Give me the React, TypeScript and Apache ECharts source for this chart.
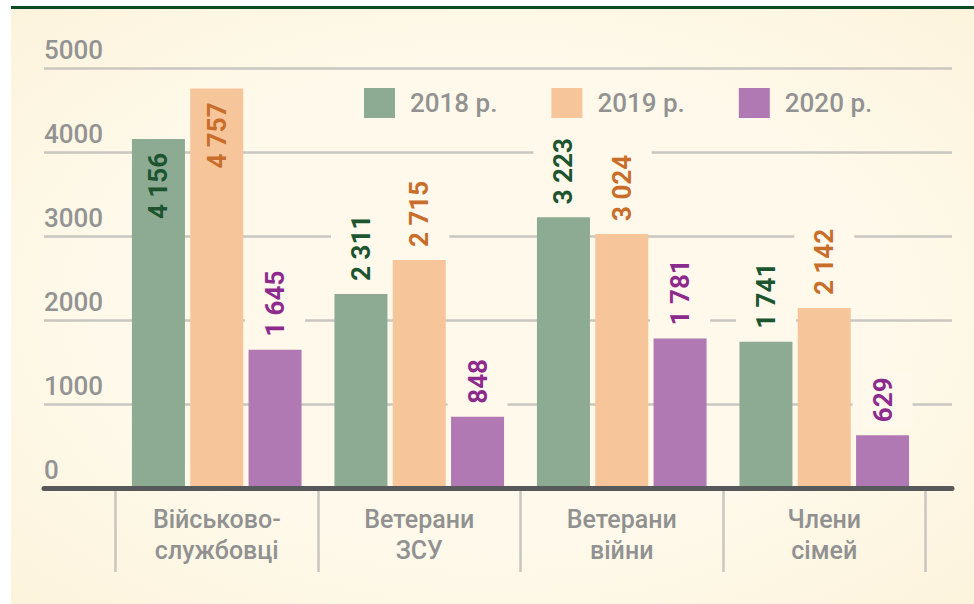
import React, { useEffect, useRef } from "react";
import * as echarts from "echarts";

const categories = ["Військово-\nслужбовці", "Ветерани\nЗСУ", "Ветерани\nвійни", "Члени\nсімей"];
const seriesNames = ["2018 р.", "2019 р.", "2020 р."];
const values2018 = [4156, 2311, 3223, 1741];
const values2019 = [4757, 2715, 3024, 2142];
const values2020 = [1645, 848, 1781, 629];
const yTicks = [0, 1000, 2000, 3000, 4000, 5000];

const barColors = ["#8dab92", "#f6c59a", "#b179b3"];
const labelColors = ["#1d5430", "#c96e2a", "#8d2a8d"];
const INSIDE_THRESHOLD = 4000;
const FONT = "Roboto, 'Noto Sans', sans-serif";
const BG_MID = "#fef9ea";

const fmt = (v: number) => String(v).replace(/\B(?=(\d{3})+(?!\d))/g, " ");

export default function App() {
  const ref = useRef<HTMLDivElement>(null);
  useEffect(() => {
    if (!ref.current) return;
    const chart = echarts.init(ref.current, null, { renderer: "svg" });
    const all = [values2018, values2019, values2020];
    const series = all.map((vals, i) => ({
      name: seriesNames[i],
      type: "bar",
      xAxisIndex: 1,
      yAxisIndex: 1,
      barWidth: 53,
      barGap: "10%",
      itemStyle: { color: barColors[i] },
      z: 2,
      label: {
        show: true,
        position: "top",
        rotate: 90,
        align: "left",
        verticalAlign: "middle",
        distance: 7,
        fontFamily: FONT,
        fontSize: 26,
        fontWeight: "bold",
        lineHeight: 30,
        color: labelColors[i],
        backgroundColor: BG_MID,
        padding: [15, 6, 15, 6],
        formatter: (p: any) => fmt(p.value),
      },
      data: vals.map((v) =>
        v > INSIDE_THRESHOLD
          ? {
              value: v,
              label: {
                position: "insideTop",
                align: "right",
                distance: 14,
                backgroundColor: "transparent",
                padding: 0,
              },
            }
          : v
      ),
    }));

    chart.setOption({
      animation: false,
      legend: {
        left: 364,
        top: 88,
        padding: 0,
        itemWidth: 31,
        itemHeight: 30,
        itemGap: 54,
        icon: "rect",
        data: seriesNames,
        textStyle: {
          fontFamily: FONT,
          fontSize: 26,
          fontWeight: 500,
          color: "#929292",
          padding: [0, 0, 0, 10],
        },
      },
      grid: [
        { left: 44, right: 22, top: 68, bottom: 116 },
        { left: 115.5, right: 48.5, top: 68, bottom: 116 },
      ],
      xAxis: [
        {
          gridIndex: 0,
          type: "category",
          data: [""],
          z: 5,
          axisLine: { show: true, lineStyle: { color: "#57585a", width: 5 } },
          axisTick: { show: false },
          axisLabel: { show: false },
          splitLine: { show: false },
        },
        {
          gridIndex: 1,
          type: "category",
          data: categories,
          axisLine: { show: false },
          axisTick: { show: true, length: 84, lineStyle: { color: "#c9c6c0", width: 2.5 } },
          axisLabel: {
            interval: 0,
            margin: 16,
            fontFamily: FONT,
            fontSize: 25,
            fontWeight: 500,
            lineHeight: 31,
            color: "#919191",
          },
        },
      ],
      yAxis: [
        {
          gridIndex: 0,
          type: "value",
          min: yTicks[0],
          max: yTicks[yTicks.length - 1],
          interval: 1000,
          axisLine: { show: false },
          axisTick: { show: false },
          splitLine: { show: true, lineStyle: { color: "#c9c6c0", width: 2.5 } },
          axisLabel: {
            inside: true,
            margin: 0,
            align: "left",
            verticalAlign: "bottom",
            padding: [0, 0, 5, 0],
            fontFamily: FONT,
            fontSize: 26,
            fontWeight: 500,
            color: "#939393",
            formatter: (v: number) => String(v),
          },
        },
        {
          gridIndex: 1,
          type: "value",
          min: yTicks[0],
          max: yTicks[yTicks.length - 1],
          interval: 1000,
          show: false,
          splitLine: { show: false },
        },
      ],
      series,
    });
    return () => chart.dispose();
  }, []);

  return (
    <div style={{ position: "fixed", left: 0, top: 0, width: 974, height: 604, background: "#ffffff", overflow: "hidden" }}>
      <div
        style={{
          position: "absolute",
          left: 11,
          top: 6,
          right: 0,
          bottom: 0,
          borderTop: "3px solid #0c4b22",
          background: `radial-gradient(ellipse at 50% 50%, ${BG_MID} 0%, ${BG_MID} 58%, #fcf3dc 100%)`,
        }}
      />
      <div ref={ref} style={{ position: "absolute", left: 0, top: 0, width: 974, height: 604 }} />
    </div>
  );
}
